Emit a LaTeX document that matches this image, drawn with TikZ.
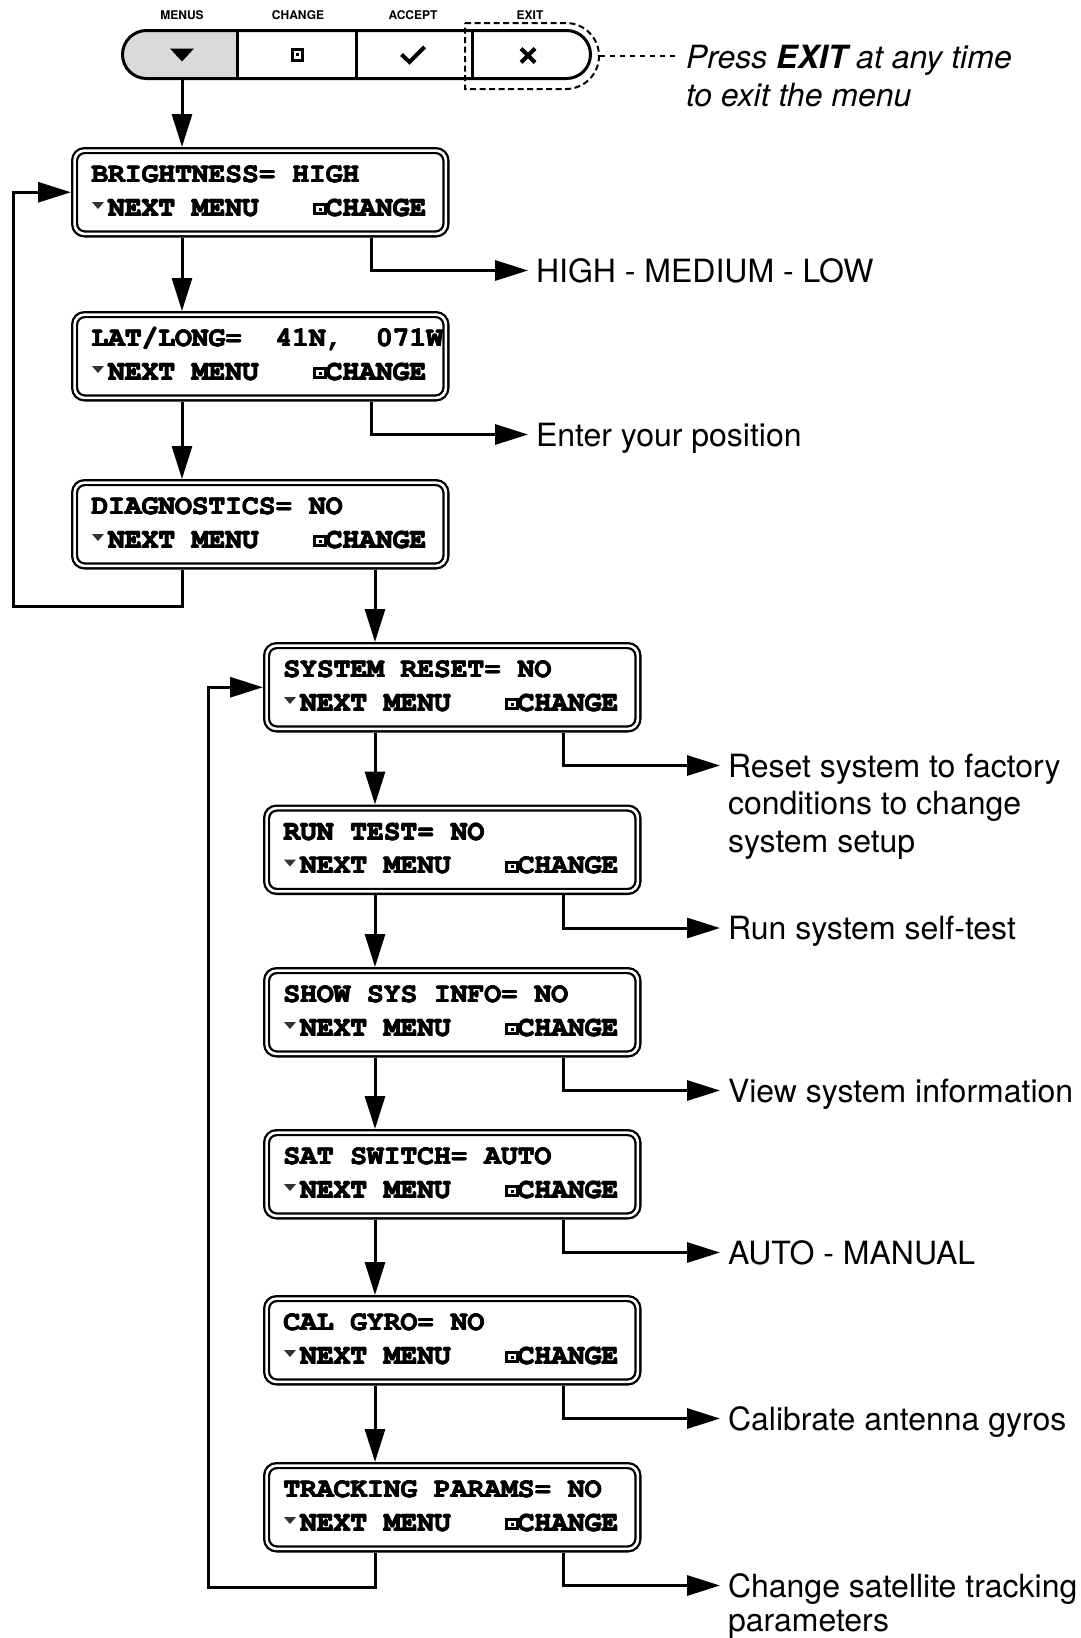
\documentclass[tikz,border=0pt]{standalone}
\usepackage[T1]{fontenc}
\usepackage{fontspec}
\setmainfont{TeX Gyre Heros}
\usetikzlibrary{arrows.meta,calc}
\newcommand\monob{\fontencoding{T1}\fontfamily{pcr}\fontseries{b}\fontshape{n}\fontsize{27.9}{34}\selectfont}
\newcommand\thk[1]{\rlap{\kern-0.55pt#1}\rlap{\kern0.55pt#1}\rlap{\raisebox{0.4pt}{#1}}\rlap{\raisebox{-0.4pt}{#1}}#1}
\newcommand\vlines[1]{\vtop{\halign{##\hfil\cr#1\crcr}}}
\definecolor{bargrey}{HTML}{D9DADB}
\definecolor{icongrey}{HTML}{333333}
\tikzset{
  conn/.style={line width=3pt, -{Triangle[length=33pt,width=20pt]}},
  mbox/.style={draw, line width=2.3pt, double=white, double distance=2.6pt,
    rounded corners=10pt, minimum width=371.3pt, minimum height=83.3pt,
    outer sep=3.6pt, inner sep=0pt},
  mono/.style={font=\monob, inner sep=0pt, outer sep=0pt},
  lbl/.style={font=\fontsize{32}{37.5}\selectfont, inner sep=0pt, outer sep=0pt, anchor=base west},
  toplbl/.style={font=\bfseries\fontsize{12}{14}\selectfont, inner sep=0pt},
  barline/.style={line width=3pt},
  exitbox/.style={line width=2pt, dash pattern=on 6pt off 3.5pt},
  exitdots/.style={line width=2.8pt, dash pattern=on 4.5pt off 5.5pt},
}
\newcommand\menubox[4]{%
  \node[mbox, anchor=north west] (#1) at (#2,#3) {};
  \node[mono, anchor=base west] (#1t) at ([shift={(20.5pt,-35.5pt)}]#1.north west) {\thk{#4}};
  \node[mono, anchor=base west] (#1n) at ([shift={(20.5pt,-69pt)}]#1.north west) {\thk{~NEXT~MENU~~~~CHANGE}};
  \fill[icongrey] ([shift={(21pt,-55pt)}]#1.north west) -- ++(12,0) -- ++(-6,7) -- cycle;
  \fill ([shift={(242pt,-56pt)}]#1.north west) rectangle ++(14,12);
  \fill[white] ([shift={(245pt,-59pt)}]#1.north west) rectangle ++(8,6);
  \fill ([shift={(247.5pt,-60.5pt)}]#1.north west) rectangle ++(3,3);
}
\newcommand\branch[3]{% box, label name, text
  \coordinate (#2tip) at ([shift={(457pt,-33pt)}]#1.south west);
  \draw[conn] ([xshift=300pt]#1.south west) |- (#2tip);
  \node[lbl] (#2) at ([shift={(8pt,-11.5pt)}]#2tip) {#3};
}
\begin{document}
\begin{tikzpicture}[x=1pt,y=-1pt]
\useasboundingbox (0,0) rectangle (1081,1638);
% ---- button bar ----
\fill[bargrey] (237,30.5) -- (146.5,30.5) arc[start angle=-90, end angle=-270, radius=24] -- (237,78.5) -- cycle;
\draw[barline, rounded corners=24pt] (122.5,30.5) rectangle (590.5,78.5);
\draw[barline] (237,30.5) -- (237,78.5) (356,30.5) -- (356,78.5) (472,30.5) -- (472,78.5);
\fill (170,48.5) -- (194,48.5) -- (182,61.5) -- cycle;
\fill (290.5,48) rectangle (304,61.5);
\fill[white] (293.5,51) rectangle (301,58.5);
\fill (295.75,53.25) rectangle (298.75,56.25);
\draw[line width=4pt] (401.5,54.5) -- (409.5,62) -- (424.5,47);
\draw[line width=4pt] (521,48.5) -- (535,62.5) (521,62.5) -- (535,48.5);
\node[toplbl] (lmenus) at (182,15) {MENUS};
\node[toplbl] (lchange) at (298,15) {CHANGE};
\node[toplbl] (laccept) at (413,15) {ACCEPT};
\node[toplbl] (lexit) at (530,15) {EXIT};
\draw[exitbox] (465,23) -- (566,23) arc[start angle=-90, end angle=90, radius=33] -- (465,89) -- cycle;
\coordinate (exitR) at (600,56);
\coordinate (pressL) at (679,56);
\draw[exitdots] (exitR) -- (pressL);
\node[lbl, font=\itshape\fontsize{32}{38}\selectfont] (press) at (686,68.5) {\vlines{Press \textbf{EXIT} at any time\cr to exit the menu}};
\coordinate (menusbtm) at (182,80);
% ---- menu boxes ----
\menubox{b1}{71}{147}{BRIGHTNESS=~HIGH}
\menubox{b2}{71}{311}{LAT/LONG=~~41N,~~071W}
\menubox{b3}{71}{479}{DIAGNOSTICS=~NO}
\menubox{b4}{263}{642}{SYSTEM~RESET=~NO}
\menubox{b5}{263}{804.5}{RUN~TEST=~NO}
\menubox{b6}{263}{967}{SHOW~SYS~INFO=~NO}
\menubox{b7}{263}{1129}{SAT~SWITCH=~AUTO}
\menubox{b8}{263}{1295}{CAL~GYRO=~NO}
\menubox{b9}{263}{1462}{TRACKING~PARAMS=~NO}
% ---- main flow ----
\draw[conn] (menusbtm) -- ([xshift=111pt]b1.north west);
\draw[conn] ([xshift=111pt]b1.south west) -- ([xshift=111pt]b2.north west);
\draw[conn] ([xshift=111pt]b2.south west) -- ([xshift=111pt]b3.north west);
\coordinate (fbA) at (13,606);
\draw[conn] ([xshift=111pt]b3.south west) |- (fbA) |- (b1.west);
\coordinate (b4in) at ([xshift=112pt]b4.north west);
\draw[conn] (b3.south -| b4in) -- (b4in);
\foreach \a/\b in {b4/b5,b5/b6,b6/b7,b7/b8,b8/b9}{
  \draw[conn] ([xshift=112pt]\a.south west) -- ([xshift=112pt]\b.north west);
}
\coordinate (fbB) at (208,1587);
\draw[conn] ([xshift=112pt]b9.south west) |- (fbB) |- (b4.west);
% ---- change branches ----
\branch{b1}{l1}{HIGH - MEDIUM - LOW}
\branch{b2}{l2}{Enter your position}
\branch{b4}{l4}{\vlines{Reset system to factory\cr conditions to change\cr system setup}}
\branch{b5}{l5}{Run system self-test}
\branch{b6}{l6}{View system information}
\branch{b7}{l7}{AUTO - MANUAL}
\branch{b8}{l8}{Calibrate antenna gyros}
\branch{b9}{l9}{\fontsize{32}{34}\selectfont\vlines{Change satellite tracking\cr parameters}}
\end{tikzpicture}
\end{document}
